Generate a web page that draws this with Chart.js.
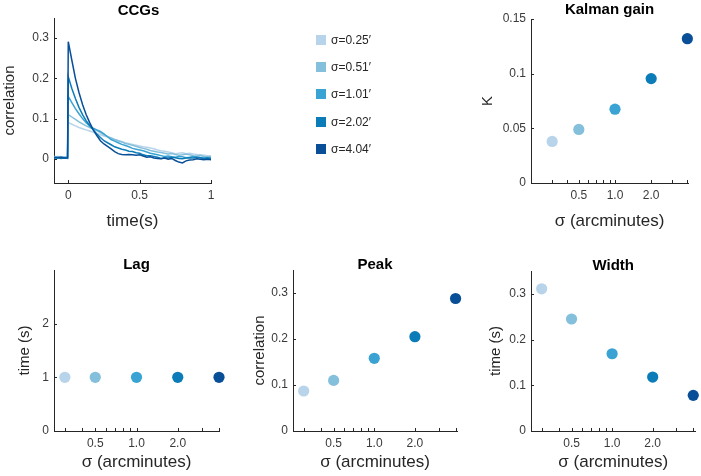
<!DOCTYPE html>
<html>
<head>
<meta charset="utf-8">
<script src="https://cdn.jsdelivr.net/npm/chart.js@4"></script>
<style>
  html, body { margin: 0; padding: 0; background: #fff; }
  #wrap { position: relative; width: 701px; height: 476px; overflow: hidden;
          font-family: "Liberation Sans", Arial, sans-serif; }
  #wrap canvas { position: absolute; left: 0; top: 0; }
  .key { position: absolute; left: 316px; height: 14px; display: flex; align-items: center;
         font-size: 12px; color: #262626; white-space: nowrap; }
  .key span.sw { width: 10px; height: 10px; margin-right: 5px; display: inline-block; }
</style>
</head>
<body>
<div id="wrap">
  <canvas id="ccg" width="701" height="476"></canvas>
  <canvas id="kalman" width="701" height="476"></canvas>
  <canvas id="lag" width="701" height="476"></canvas>
  <canvas id="peak" width="701" height="476"></canvas>
  <canvas id="width" width="701" height="476"></canvas>
</div>
<script>
// -----------------------------
// data
// -----------------------------
const sigmaLabels = ["σ=0.25′", "σ=0.51′", "σ=1.01′", "σ=2.02′", "σ=4.04′"];
const sigmaX = [0.3, 0.5, 1.0, 2.0, 4.0];
const sigmaColors = ["#b8d4ea", "#84bfdb", "#3ba3d3", "#0c7cb8", "#084f98"];

const kalmanGain = [0.038, 0.049, 0.0675, 0.0955, 0.132];
const lagTime = [1, 1, 1, 1, 1];
const peakCorr = [0.087, 0.110, 0.158, 0.205, 0.288];
const widthTime = [0.311, 0.245, 0.169, 0.118, 0.078];

const ccgTime = [-0.1, -0.075, -0.05, -0.025, -0.005, 0, 0.025, 0.05, 0.075, 0.1, 0.125, 0.15, 0.175, 0.2,
  0.225, 0.25, 0.275, 0.3, 0.325, 0.35, 0.375, 0.4, 0.425, 0.45, 0.475, 0.5, 0.525, 0.55, 0.575, 0.6,
  0.625, 0.65, 0.675, 0.7, 0.725, 0.75, 0.775, 0.8, 0.825, 0.85, 0.875, 0.9, 0.925, 0.95, 0.975, 1.0];
const ccg025 = [0.006, 0.005, 0.004, 0.005, 0.004,
  0.090, 0.086, 0.082, 0.078, 0.075, 0.072, 0.069, 0.066, 0.063, 0.060, 0.057, 0.054, 0.051, 0.048, 0.045,
  0.043, 0.040, 0.038, 0.036, 0.034, 0.032, 0.030, 0.029, 0.027, 0.025, 0.022, 0.020, 0.019, 0.017, 0.015,
  0.013, 0.014, 0.015, 0.013, 0.014, 0.012, 0.011, 0.010, 0.009, 0.008, 0.007];
const ccg051 = [0.004, 0.006, 0.005, 0.004, 0.005,
  0.110, 0.104, 0.098, 0.092, 0.087, 0.082, 0.078, 0.074, 0.070, 0.065, 0.060, 0.056, 0.052, 0.048, 0.045,
  0.042, 0.038, 0.036, 0.034, 0.031, 0.028, 0.026, 0.024, 0.021, 0.019, 0.017, 0.016, 0.014, 0.012, 0.013,
  0.011, 0.009, 0.010, 0.012, 0.010, 0.008, 0.007, 0.008, 0.006, 0.005, 0.006];
const ccg101 = [0.003, 0.004, 0.002, 0.003, 0.002,
  0.155, 0.140, 0.125, 0.112, 0.100, 0.090, 0.082, 0.076, 0.072, 0.068, 0.062, 0.055, 0.048, 0.044, 0.040,
  0.036, 0.033, 0.030, 0.026, 0.024, 0.022, 0.020, 0.017, 0.014, 0.012, 0.010, 0.008, 0.006, 0.007, 0.005,
  0.004, 0.006, 0.005, 0.003, 0.004, 0.006, 0.004, 0.003, 0.002, 0.003, 0.002];
const ccg202 = [0.002, 0.003, 0.001, 0.002, 0.001,
  0.204, 0.175, 0.150, 0.128, 0.110, 0.095, 0.083, 0.072, 0.062, 0.053, 0.045, 0.040, 0.035, 0.030, 0.027,
  0.024, 0.022, 0.019, 0.018, 0.015, 0.014, 0.010, 0.008, 0.008, 0.006, 0.004, 0.001, 0.003, 0.002, 0.004,
  0.003, 0.001, 0.000, 0.002, 0.003, 0.002, 0.004, 0.003, 0.001, 0.002, 0.001];
const ccg404 = [0.004, 0.003, 0.004, 0.002, 0.003,
  0.291, 0.245, 0.200, 0.165, 0.135, 0.110, 0.090, 0.072, 0.058, 0.045, 0.037, 0.031, 0.025, 0.018, 0.013,
  0.011, 0.010, 0.011, 0.010, 0.009, 0.010, 0.007, 0.004, 0.005, 0.002, 0.001, 0.000, 0.002, -0.001, 0.001,
  -0.004, -0.008, -0.010, -0.005, -0.003, -0.002, 0.000, -0.001, -0.002, -0.001, -0.002];
const ccgSeries = [ccg025, ccg051, ccg101, ccg202, ccg404];

// tick values / labels
const logTicks = [0.2, 0.3, 0.4, 0.5, 0.6, 0.7, 0.8, 0.9, 1, 2, 3, 4];
const logLabelValues = [0.5, 1, 2];
const logLabelText = ["0.5", "1.0", "2.0"];
const ccgXTicks = [0, 0.5, 1];
const ccgXLabels = ["0", "0.5", "1"];
const ccgYTicks = [0, 0.1, 0.2, 0.3];
const ccgYLabels = ["0", "0.1", "0.2", "0.3"];
const kalmanYTicks = [0, 0.05, 0.1, 0.15];
const kalmanYLabels = ["0", "0.05", "0.1", "0.15"];
const lagYTicks = [0, 1, 2];
const lagYLabels = ["0", "1", "2"];
const corrYTicks = [0, 0.1, 0.2, 0.3];
const corrYLabels = ["0", "0.1", "0.2", "0.3"];

// -----------------------------
// defaults + plugins
// -----------------------------
const FONT = '"Liberation Sans", Arial, sans-serif';
const INK = "#262626";
const TICK_INK = "#3a3a3a";
Chart.defaults.font.family = FONT;
Chart.defaults.color = INK;

// MATLAB style ticks pointing into the axes
const inwardTicks = {
  id: "inwardTicks",
  afterDraw(chart) {
    const { ctx, chartArea: a, scales } = chart;
    ctx.save();
    ctx.strokeStyle = INK;
    ctx.lineWidth = 1;
    ctx.beginPath();
    scales.x.ticks.forEach(t => {
      if (t.value < scales.x.min || t.value > scales.x.max) return;
      const px = Math.round(scales.x.getPixelForValue(t.value)) + 0.5;
      ctx.moveTo(px, a.bottom);
      ctx.lineTo(px, a.bottom - 3);
    });
    scales.y.ticks.forEach(t => {
      if (t.value < scales.y.min || t.value > scales.y.max) return;
      const py = Math.round(scales.y.getPixelForValue(t.value)) + 0.5;
      ctx.moveTo(a.left, py);
      ctx.lineTo(a.left + 3, py);
    });
    ctx.stroke();
    ctx.restore();
  }
};

// title centred over the axes box
const panelTitle = {
  id: "panelTitle",
  afterDraw(chart, args, opts) {
    const { ctx, chartArea: a } = chart;
    ctx.save();
    ctx.font = "bold 15px " + FONT;
    ctx.fillStyle = "#000";
    ctx.textAlign = "center";
    ctx.textBaseline = "alphabetic";
    ctx.fillText(opts.text, (a.left + a.right) / 2 + (opts.dx || 0), a.top - opts.gap);
    ctx.restore();
  }
};

function labelFrom(values, texts) {
  return v => {
    const i = values.findIndex(x => Math.abs(x - v) < 1e-9);
    return i < 0 ? "" : texts[i];
  };
}

function axisX(box, type, min, max, ticks, cb, title) {
  return {
    type: type, min: min, max: max,
    afterFit: s => { s.height = box.xH; },
    afterBuildTicks: s => { s.ticks = ticks.map(v => ({ value: v })); },
    grid: { display: false, drawTicks: false },
    border: { display: true, color: INK, width: 1 },
    ticks: { autoSkip: false, maxRotation: 0, padding: 5, font: { size: 12 }, color: TICK_INK, callback: cb },
    title: { display: true, text: title, font: { size: 17 }, color: INK, padding: 0 }
  };
}

function axisY(box, min, max, ticks, cb, title) {
  return {
    type: "linear", min: min, max: max,
    afterFit: s => { s.width = box.yW; },
    afterBuildTicks: s => { s.ticks = ticks.map(v => ({ value: v })); },
    grid: { display: false, drawTicks: false },
    border: { display: true, color: INK, width: 1 },
    ticks: { autoSkip: false, padding: 5, font: { size: 12 }, color: TICK_INK, callback: cb },
    title: { display: true, text: title, font: { size: 15 }, color: INK, padding: 0 }
  };
}

function padding(box) {
  return { left: box.l - box.yW, top: box.t, right: 701 - box.r, bottom: 476 - box.b - box.xH };
}

function baseOptions(box, titleText, gap, dx, x, y) {
  return {
    responsive: false,
    animation: false,
    devicePixelRatio: 1,
    layout: { padding: padding(box) },
    plugins: {
      legend: { display: false },
      tooltip: { enabled: false },
      panelTitle: { text: titleText, gap: gap, dx: dx }
    },
    scales: { x: x, y: y }
  };
}

// -----------------------------
// CCGs
// -----------------------------
const ccgBox = { l: 54, t: 18, r: 211, b: 183, yW: 53, xH: 49 };
new Chart(document.getElementById("ccg"), {
  type: "line",
  data: {
    datasets: ccgSeries.map((s, i) => ({
      data: ccgTime.map((t, j) => ({ x: t, y: s[j] })),
      borderColor: sigmaColors[i],
      borderWidth: 1.5,
      pointRadius: 0,
      tension: 0,
      order: ccgSeries.length - i
    }))
  },
  options: baseOptions(ccgBox, "CCGs", 3, 6,
    axisX(ccgBox, "linear", -0.1, 1, ccgXTicks, labelFrom(ccgXTicks, ccgXLabels), "time(s)"),
    axisY(ccgBox, -0.06, 0.35, ccgYTicks, labelFrom(ccgYTicks, ccgYLabels), "correlation")),
  plugins: [inwardTicks, panelTitle]
});

// -----------------------------
// scatter panels over sigma
// -----------------------------
function sigmaPanel(id, box, titleText, gap, xMin, xMax, values, yMin, yMax, yTicks, yLabels, yTitle) {
  new Chart(document.getElementById(id), {
    type: "scatter",
    data: {
      datasets: [{
        data: sigmaX.map((x, i) => ({ x: x, y: values[i] })),
        pointBackgroundColor: sigmaColors,
        pointBorderWidth: 0,
        pointRadius: 5.6,
        clip: false
      }]
    },
    options: baseOptions(box, titleText, gap, 0,
      axisX(box, "logarithmic", xMin, xMax, logTicks, labelFrom(logLabelValues, logLabelText), "σ (arcminutes)"),
      axisY(box, yMin, yMax, yTicks, labelFrom(yTicks, yLabels), yTitle)),
    plugins: [inwardTicks, panelTitle]
  });
}

sigmaPanel("kalman", { l: 531, t: 19, r: 688, b: 183, yW: 52, xH: 49 }, "Kalman gain", 5,
  0.2, 4.05, kalmanGain, 0, 0.15, kalmanYTicks, kalmanYLabels, "K");
sigmaPanel("lag", { l: 54, t: 270, r: 219, b: 431, yW: 38, xH: 42 }, "Lag", 1,
  0.25, 4.0, lagTime, 0, 3, lagYTicks, lagYLabels, "time (s)");
sigmaPanel("peak", { l: 293, t: 270, r: 457, b: 431, yW: 42, xH: 42 }, "Peak", 1,
  0.25, 4.1, peakCorr, 0, 0.35, corrYTicks, corrYLabels, "correlation");
sigmaPanel("width", { l: 531, t: 271, r: 696, b: 431, yW: 44, xH: 42 }, "Width", 1,
  0.25, 4.15, widthTime, 0, 0.35, corrYTicks, corrYLabels, "time (s)");

// -----------------------------
// legend
// -----------------------------
const wrap = document.getElementById("wrap");
sigmaLabels.forEach((lab, i) => {
  const row = document.createElement("div");
  row.className = "key";
  row.style.top = (33 + i * 27.2) + "px";
  row.innerHTML = "<span class='sw' style='background:" + sigmaColors[i] + "'></span>" + lab;
  wrap.appendChild(row);
});
</script>
</body>
</html>
